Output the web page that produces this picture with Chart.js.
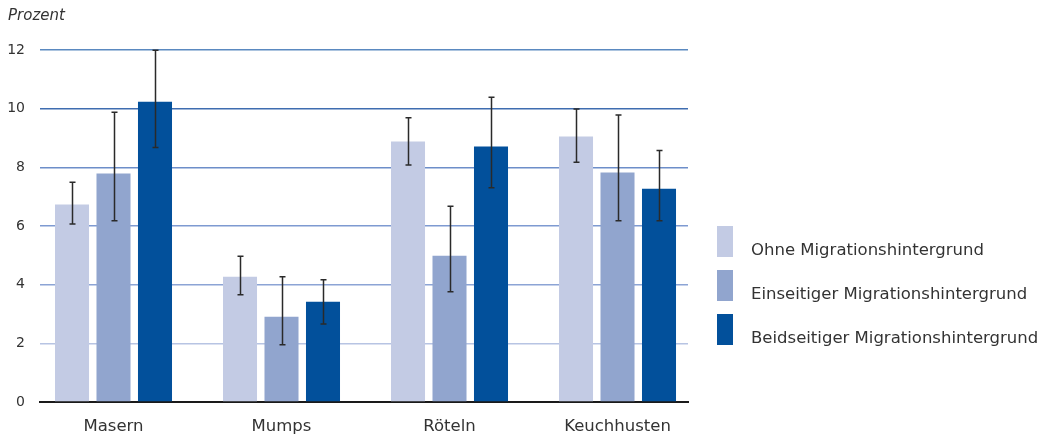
<!DOCTYPE html>
<html><head><meta charset="utf-8">
<script src="https://cdn.jsdelivr.net/npm/chart.js@4/dist/chart.umd.min.js"></script>
<style>
html,body{margin:0;padding:0;background:#fff;}
#wrap{position:relative;width:1050px;height:437px;}
#c{position:absolute;left:0;top:0;}
#ytitle{position:absolute;left:8px;top:6px;font:italic 15px "DejaVu Sans",sans-serif;color:#333;}
#legend{position:absolute;left:717px;top:226px;font:16.5px "DejaVu Sans",sans-serif;color:#333;}
.li{position:relative;height:44px;}
.sw{position:absolute;left:0;top:0;width:16px;height:31px;}
.lt{position:absolute;left:34px;top:13px;white-space:nowrap;line-height:22px;}
</style></head>
<body><div id="wrap"><canvas id="c" width="1050" height="437"></canvas>
<div id="ytitle">Prozent</div><div id="legend"></div></div>
<script>
const categories = ["Masern", "Mumps", "Röteln", "Keuchhusten"];
const seriesNames = ["Ohne Migrationshintergrund", "Einseitiger Migrationshintergrund", "Beidseitiger Migrationshintergrund"];
const ohne = [6.73, 4.27, 8.88, 9.05];
const ohneLow = [6.07, 3.66, 8.08, 8.17];
const ohneHigh = [7.49, 4.97, 9.69, 9.99];
const einseitig = [7.79, 2.91, 4.99, 7.82];
const einseitigLow = [6.18, 1.95, 3.76, 6.18];
const einseitigHigh = [9.88, 4.27, 6.67, 9.78];
const beidseitig = [10.24, 3.42, 8.71, 7.27];
const beidseitigLow = [8.68, 2.66, 7.30, 6.18];
const beidseitigHigh = [11.99, 4.17, 10.39, 8.57];
const yTicks = [0, 2, 4, 6, 8, 10, 12];

const colors = ["#c3cbe4", "#91a5ce", "#02509b"];
const gridColors = {0:"rgba(0,0,0,0)",2:"#b7c4e3",4:"#8ca4d5",6:"#7e9ad1",8:"#6d8ec9",10:"#3f6db0",12:"#5a89c0"};

const values = [ohne, einseitig, beidseitig];
const lows = [ohneLow, einseitigLow, beidseitigLow];
const highs = [ohneHigh, einseitigHigh, beidseitigHigh];

const datasets = seriesNames.map((n, i) => ({
  label: n,
  data: values[i].map((v, j) => ({x: j, y: v})),
  lows: lows[i], highs: highs[i],
  backgroundColor: colors[i],
  borderWidth: 0,
  categoryPercentage: 0.741,
  barPercentage: 0.82
}));

const errorBars = {
  id: 'errorBars',
  afterDatasetsDraw(chart) {
    const ctx = chart.ctx, ys = chart.scales.y;
    ctx.save();
    ctx.strokeStyle = '#2a2a2a';
    ctx.lineWidth = 1.5;
    chart.data.datasets.forEach((ds, i) => {
      const meta = chart.getDatasetMeta(i);
      meta.data.forEach((bar, j) => {
        const x = Math.round(bar.x) + 0.5;
        const y1 = ys.getPixelForValue(ds.lows[j]);
        const y2 = ys.getPixelForValue(ds.highs[j]);
        ctx.beginPath();
        ctx.moveTo(x, y1); ctx.lineTo(x, y2);
        ctx.moveTo(x - 3, y1); ctx.lineTo(x + 3, y1);
        ctx.moveTo(x - 3, y2); ctx.lineTo(x + 3, y2);
        ctx.stroke();
      });
    });
    ctx.restore();
  }
};

new Chart(document.getElementById('c'), {
  type: 'bar',
  data: { datasets },
  options: {
    responsive: false,
    animation: false,
    layout: { padding: { left: 0, right: 362, top: 50, bottom: 0 } },
    plugins: { legend: { display: false }, tooltip: { enabled: false } },
    scales: {
      x: {
        type: 'linear',
        offset: false,
        min: -0.4375, max: 3.4196,
        afterBuildTicks(s) { s.ticks = [0,1,2,3].map(v => ({value: v})); },
        afterFit(s) { s.height = 35; },
        grid: { display: false, drawTicks: false, offset: false },
        border: { display: true, color: '#1a1a1a', width: 2 },
        ticks: {
          padding: 15, color: '#333',
          font: { family: 'DejaVu Sans', size: 16.5 },
          callback: v => categories[v],
          autoSkip: false, maxRotation: 0
        }
      },
      y: {
        min: 0, max: 12,
        afterBuildTicks(s) { s.ticks = yTicks.map(v => ({value: v})); },
        afterFit(s) { s.width = 40; },
        border: { display: false },
        grid: { drawTicks: false, lineWidth: 1.5, color: c => gridColors[c.tick.value] },
        ticks: { padding: 15, color: '#333', font: { family: 'DejaVu Sans', size: 14 } }
      }
    }
  },
  plugins: [errorBars]
});

const lg = document.getElementById('legend');
seriesNames.forEach((n, i) => {
  const d = document.createElement('div'); d.className = 'li';
  d.innerHTML = '<div class="sw" style="background:' + colors[i] + '"></div><div class="lt">' + n + '</div>';
  lg.appendChild(d);
});
</script></body></html>
